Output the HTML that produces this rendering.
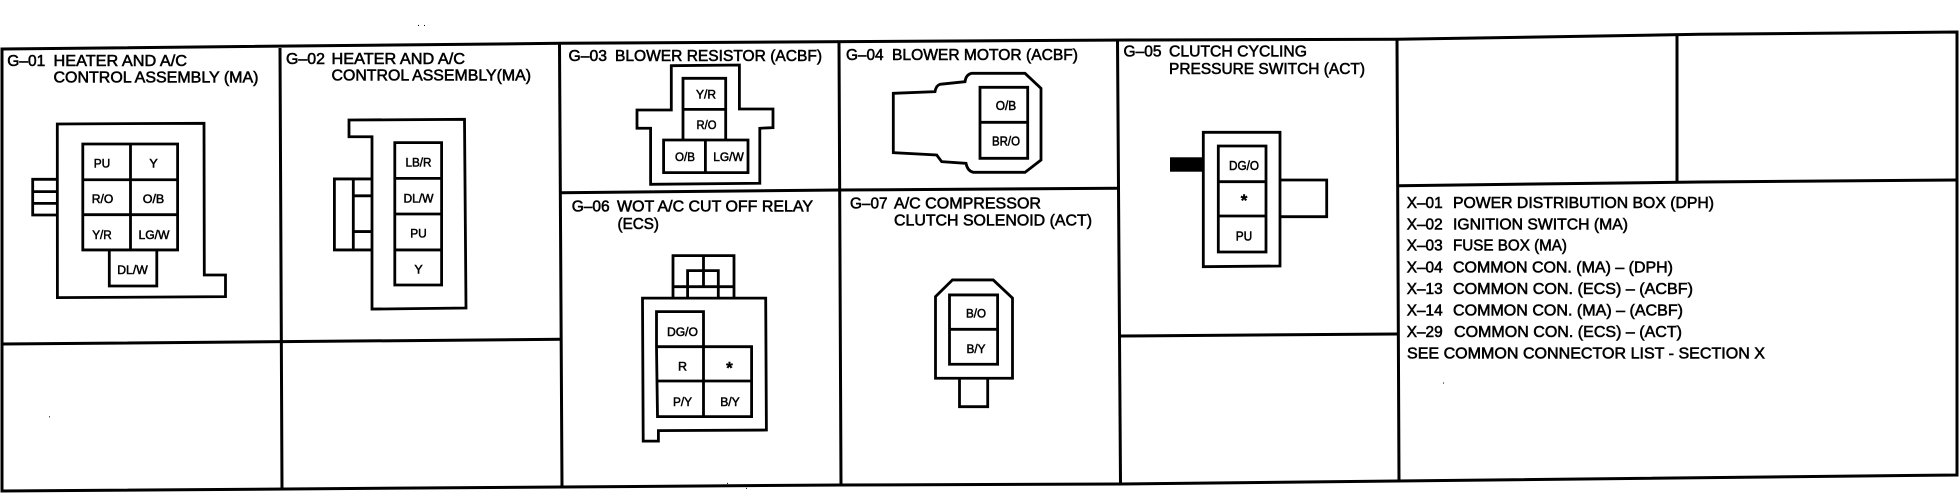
<!DOCTYPE html>
<html><head><meta charset="utf-8"><style>
html,body{margin:0;padding:0;background:#fff}
svg{display:block}
text{font-family:"Liberation Sans",sans-serif;fill:#000;stroke:#000}
.h{font-size:15.5px;stroke-width:.55px}
.l{font-size:12.5px;stroke-width:.5px;text-anchor:middle}
.s{font-size:17px;font-weight:bold;stroke-width:.4px;text-anchor:middle}
.d{fill:none;stroke:#000;stroke-width:2.8;stroke-linejoin:miter}
.t{fill:none;stroke:#000;stroke-width:3}
</style></head><body>
<svg width="1960" height="496" viewBox="0 0 1960 496" xmlns="http://www.w3.org/2000/svg">
<rect width="1960" height="496" fill="#fff"/>
<!-- table frame -->
<path class="t" d="M2 49 L561 43.3 L1130 40 L1397 39.3 L1700 34.3 L1957 32 L1957 475 L1397 481 L1120 484 L840 485 L561 487 L2 491 Z"/>
<path class="t" d="M280 48 L282 489 M559.5 44 L562 487 M839 42 L841 485 M1117.5 40 L1120.5 484 M1397 39 L1399 481 M1677 35 L1677 183"/>
<path class="t" d="M2 344 L562 339.3 M561 192.8 L840 190 L1118 188.3 M1120 336 L1397 334 M1399 185.7 L1700 182 L1957 180"/>

<!-- headings -->
<g transform="translate(0,-1)">
<text class="h" x="7.3" y="67" textLength="38" lengthAdjust="spacingAndGlyphs">G–01</text>
<text class="h" x="53.5" y="67" textLength="133.5" lengthAdjust="spacingAndGlyphs">HEATER AND A/C</text>
<text class="h" x="53.5" y="83.5" textLength="205" lengthAdjust="spacingAndGlyphs">CONTROL ASSEMBLY (MA)</text>
<text class="h" x="286" y="65" textLength="39" lengthAdjust="spacingAndGlyphs">G–02</text>
<text class="h" x="331.5" y="65" textLength="133.5" lengthAdjust="spacingAndGlyphs">HEATER AND A/C</text>
<text class="h" x="331.5" y="81.5" textLength="199.5" lengthAdjust="spacingAndGlyphs">CONTROL ASSEMBLY(MA)</text>
<text class="h" x="568.5" y="62" textLength="38.5" lengthAdjust="spacingAndGlyphs">G–03</text>
<text class="h" x="615" y="62" textLength="207" lengthAdjust="spacingAndGlyphs">BLOWER RESISTOR (ACBF)</text>
<text class="h" x="846" y="61" textLength="37.5" lengthAdjust="spacingAndGlyphs">G–04</text>
<text class="h" x="892" y="61" textLength="186" lengthAdjust="spacingAndGlyphs">BLOWER MOTOR (ACBF)</text>
<text class="h" x="1123.5" y="57.3" textLength="38" lengthAdjust="spacingAndGlyphs">G–05</text>
<text class="h" x="1169" y="57.3" textLength="138" lengthAdjust="spacingAndGlyphs">CLUTCH CYCLING</text>
<text class="h" x="1169" y="75" textLength="196" lengthAdjust="spacingAndGlyphs">PRESSURE SWITCH (ACT)</text>
<text class="h" x="571.7" y="212.3" textLength="38" lengthAdjust="spacingAndGlyphs">G–06</text>
<text class="h" x="617" y="212.3" textLength="196" lengthAdjust="spacingAndGlyphs">WOT A/C CUT OFF RELAY</text>
<text class="h" x="617.5" y="230" textLength="41.5" lengthAdjust="spacingAndGlyphs">(ECS)</text>
<text class="h" x="850" y="209.5" textLength="37.5" lengthAdjust="spacingAndGlyphs">G–07</text>
<text class="h" x="894" y="209.5" textLength="147" lengthAdjust="spacingAndGlyphs">A/C COMPRESSOR</text>
<text class="h" x="894" y="226.5" textLength="198" lengthAdjust="spacingAndGlyphs">CLUTCH SOLENOID (ACT)</text>
</g>

<!-- X list -->
<g transform="translate(0,-1.3)">
<text class="h" x="1406.7" y="209.3" textLength="36" lengthAdjust="spacingAndGlyphs">X–01</text>
<text class="h" x="1453" y="209.3" textLength="261" lengthAdjust="spacingAndGlyphs">POWER DISTRIBUTION BOX (DPH)</text>
<text class="h" x="1406.7" y="231" textLength="36" lengthAdjust="spacingAndGlyphs">X–02</text>
<text class="h" x="1453" y="231" textLength="175" lengthAdjust="spacingAndGlyphs">IGNITION SWITCH (MA)</text>
<text class="h" x="1406.7" y="252" textLength="36" lengthAdjust="spacingAndGlyphs">X–03</text>
<text class="h" x="1453" y="252" textLength="114" lengthAdjust="spacingAndGlyphs">FUSE BOX (MA)</text>
<text class="h" x="1406.7" y="274" textLength="36" lengthAdjust="spacingAndGlyphs">X–04</text>
<text class="h" x="1453" y="274" textLength="220" lengthAdjust="spacingAndGlyphs">COMMON CON. (MA) – (DPH)</text>
<text class="h" x="1406.7" y="295.5" textLength="36" lengthAdjust="spacingAndGlyphs">X–13</text>
<text class="h" x="1453" y="295.5" textLength="240" lengthAdjust="spacingAndGlyphs">COMMON CON. (ECS) – (ACBF)</text>
<text class="h" x="1406.7" y="316.7" textLength="36" lengthAdjust="spacingAndGlyphs">X–14</text>
<text class="h" x="1453" y="316.7" textLength="230" lengthAdjust="spacingAndGlyphs">COMMON CON. (MA) – (ACBF)</text>
<text class="h" x="1406.7" y="338.3" textLength="36" lengthAdjust="spacingAndGlyphs">X–29</text>
<text class="h" x="1454" y="338.3" textLength="228" lengthAdjust="spacingAndGlyphs">COMMON CON. (ECS) – (ACT)</text>
<text class="h" x="1407" y="360" textLength="358" lengthAdjust="spacingAndGlyphs">SEE COMMON CONNECTOR LIST - SECTION X</text>
</g>

<!-- G-04 -->
<path class="d" d="M893.3 93.3 L935 91.7 Q936 85.5 940 84.3 L965 81.7 Q966 74.5 971.7 73.3 L1025 73.3 L1041 88.3 V160 L1025 172.3 L973.3 172.3 Q967.5 171 966 163.3 L941.7 161.7 L936.7 155 L893.3 152.7 Z"/>
<path class="d" d="M980 87.3 H1027.7 V158.3 H980 Z M980 122.3 H1027.7"/>
<text class="l" x="1006" y="110" textLength="20.5" lengthAdjust="spacingAndGlyphs">O/B</text>
<text class="l" x="1006" y="145.7" textLength="28" lengthAdjust="spacingAndGlyphs">BR/O</text>

<!-- G-05 -->
<rect x="1170" y="157.3" width="33.5" height="14.4" fill="#000"/>
<path class="d" d="M1203.3 132.3 H1280 V266 L1203.3 266.7 Z"/>
<path class="d" d="M1218.3 146 H1266 V252 H1218.3 Z M1218.3 181.7 H1266 M1218.3 216 H1266"/>
<path class="d" d="M1280 180 H1326.7 V216.7 H1280"/>
<text class="l" x="1244" y="170" textLength="30" lengthAdjust="spacingAndGlyphs">DG/O</text>
<text class="s" x="1244" y="206">*</text>
<text class="l" x="1244" y="240.7" textLength="16.5" lengthAdjust="spacingAndGlyphs">PU</text>

<g transform="matrix(1 0 0 .9933 0 .133)">
<!-- specks -->
<g fill="#000"><rect x="418" y="25" width="1" height="1"/><rect x="424" y="25" width="1" height="1"/><rect x="49" y="419" width="1" height="1"/><rect x="727" y="486" width="1" height="1"/><rect x="746" y="491" width="1" height="1"/><rect x="1443" y="385" width="1" height="1"/></g>

<!-- G-01 -->
<path class="d" d="M57.3 124.7 L204 124 L204.3 276.7 L225.5 276.7 L225.5 298.5 L57.4 299.5 Z"/>
<path class="d" d="M57 180.4 H32.7 V216.3 H57 M32.7 192.8 H57 M32.7 204.6 H57"/>
<path class="d" d="M82.8 144.8 H177.6 V251.5 H82.8 Z M130.5 144.8 V251.5 M82.8 180.8 H177.6 M82.8 216 H177.6"/>
<path class="d" d="M109.3 251.5 V287.8 H156.8 V251.5"/>
<text class="l" x="102" y="168.5" textLength="16.5" lengthAdjust="spacingAndGlyphs">PU</text>
<text class="l" x="153.5" y="168.5">Y</text>
<text class="l" x="102.5" y="204" textLength="21.5" lengthAdjust="spacingAndGlyphs">R/O</text>
<text class="l" x="153.5" y="204" textLength="21.5" lengthAdjust="spacingAndGlyphs">O/B</text>
<text class="l" x="102" y="240.5" textLength="19.5" lengthAdjust="spacingAndGlyphs">Y/R</text>
<text class="l" x="154" y="240.5" textLength="31" lengthAdjust="spacingAndGlyphs">LG/W</text>
<text class="l" x="132.5" y="275.5" textLength="30.5" lengthAdjust="spacingAndGlyphs">DL/W</text>

<!-- G-02 -->
<path class="d" d="M349 120.7 L464.5 120 L466 310 L372 311 L372 137.5 L349 137.5 Z"/>
<path class="d" d="M372 180 H334.4 V251.5 H372 M353.3 180 V251.5 M353.3 197 H372 M353.3 233 H372"/>
<path class="d" d="M394.8 143.5 H441.6 V286.8 H394.8 Z M394.8 179.4 H441.6 M394.8 215.3 H441.6 M394.8 251.5 H441.6"/>
<text class="l" x="418.5" y="167.5" textLength="26" lengthAdjust="spacingAndGlyphs">LB/R</text>
<text class="l" x="418.5" y="203.5" textLength="30" lengthAdjust="spacingAndGlyphs">DL/W</text>
<text class="l" x="418.5" y="239" textLength="16.5" lengthAdjust="spacingAndGlyphs">PU</text>
<text class="l" x="418.5" y="275">Y</text>

<!-- G-03 -->
<path class="d" d="M671.3 66 L739.4 65.3 V109.6 H773 V128.4 L759.8 129 V184.4 L650.6 185.4 V129 H637 V110.6 H671.3 Z"/>
<path class="d" d="M683 140.8 V78.7 H725.7 V140.8 M683 110 H725.7"/>
<path class="d" d="M663.6 140.8 H748 V173.7 H663.6 Z M705.4 140.8 V173.7"/>
<text class="l" x="706" y="99" textLength="20" lengthAdjust="spacingAndGlyphs">Y/R</text>
<text class="l" x="706.5" y="129.5" textLength="20" lengthAdjust="spacingAndGlyphs">R/O</text>
<text class="l" x="685" y="162" textLength="20" lengthAdjust="spacingAndGlyphs">O/B</text>
<text class="l" x="728.5" y="162" textLength="30.5" lengthAdjust="spacingAndGlyphs">LG/W</text>

<!-- G-06 -->
<path class="d" d="M673 300 V257.2 H734 V300 M703.5 257.2 V288.5 M673 288.5 H734 M687.6 300 V272.3 H718.3 V300"/>
<path class="d" d="M642.5 300 H765.7 L766.4 432.8 L658.4 433.4 V444 H643.2 Z"/>
<path class="d" d="M656.5 348.9 V313.6 H703.5 V348.9 M656.5 348.9 H751.6 V419.3 H657.5 L656.5 348.9 M703.5 348.9 V419.3 M656.5 383.4 H751.6"/>
<text class="l" x="682.5" y="338" textLength="31" lengthAdjust="spacingAndGlyphs">DG/O</text>
<text class="l" x="682.5" y="373">R</text>
<text class="s" x="729.5" y="376">*</text>
<text class="l" x="682.5" y="408.5" textLength="19" lengthAdjust="spacingAndGlyphs">P/Y</text>
<text class="l" x="730" y="408.5" textLength="19.5" lengthAdjust="spacingAndGlyphs">B/Y</text>

<!-- G-07 -->
<path class="d" d="M935.5 298.5 L952.5 281.7 H993.2 L1012.5 300 V380.7 H935.5 Z"/>
<path class="d" d="M949.5 296.8 H997.6 V366.6 H949.5 Z M949.5 331.4 H997.6"/>
<path class="d" d="M959.5 380.7 V409.3 H987.7 V380.7"/>
<text class="l" x="976" y="319.5" textLength="20" lengthAdjust="spacingAndGlyphs">B/O</text>
<text class="l" x="976" y="355.5" textLength="19" lengthAdjust="spacingAndGlyphs">B/Y</text>
</g>
</svg>
</body></html>
